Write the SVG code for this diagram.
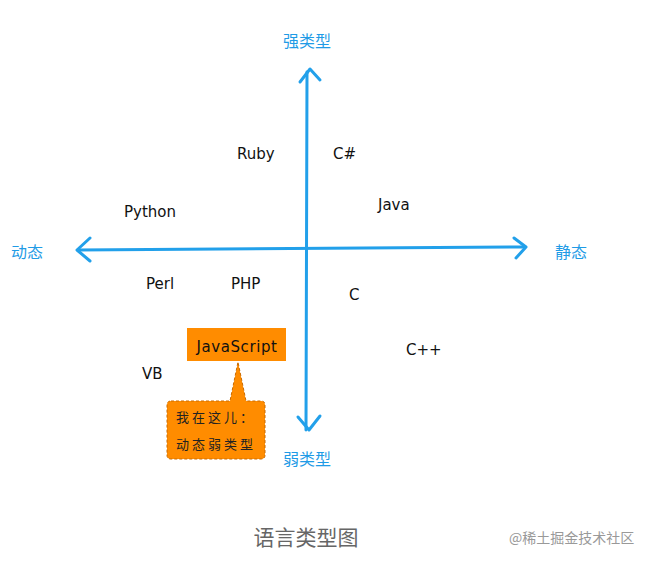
<svg xmlns="http://www.w3.org/2000/svg" width="647" height="562" viewBox="0 0 647 562">
<style>
.axis{stroke:#22a0ea;stroke-width:3;fill:none;stroke-linecap:round;stroke-linejoin:round}
.ax{font-family:"Noto Sans CJK SC",sans-serif;font-size:16px;fill:#1f9be6}
.lang{font-family:"DejaVu Sans",sans-serif;font-size:15px;fill:#111}
.note{font-family:"Noto Sans CJK SC",sans-serif;font-size:13px;fill:#222;letter-spacing:3px}
</style>
<rect width="647" height="562" fill="#fff"/>
<g id="connectors">
<path class="axis" d="M307 72 L306 430"/>
<path class="axis" d="M300 82 L310 69 L320 80"/>
<path class="axis" d="M298 417 L309 430 L320 416"/>
<path class="axis" d="M78 250 L524 247"/>
<path class="axis" d="M90 238 L77 250 L90 261"/>
<path class="axis" d="M514 238 L526 247 L516 258"/>
</g>
<g id="strong"><text class="ax" x="307" y="47" text-anchor="middle">强类型</text></g>
<g id="weak"><text class="ax" x="307" y="465" text-anchor="middle">弱类型</text></g>
<g id="dynamic"><text class="ax" x="11" y="258">动态</text></g>
<g id="static"><text class="ax" x="555" y="258">静态</text></g>
<g id="ruby"><text class="lang" x="237" y="159">Ruby</text></g>
<g id="csharp"><text class="lang" x="333" y="159">C#</text></g>
<g id="python"><text class="lang" x="124" y="217">Python</text></g>
<g id="java"><text class="lang" x="378" y="210">Java</text></g>
<g id="perl"><text class="lang" x="146" y="289">Perl</text></g>
<g id="php"><text class="lang" x="231" y="289">PHP</text></g>
<g id="c"><text class="lang" x="349" y="300">C</text></g>
<g id="cpp"><text class="lang" x="406" y="355">C++</text></g>
<g id="vb"><text class="lang" x="142" y="379">VB</text></g>
<g id="javascript">
<rect x="187" y="328" width="99" height="33" fill="#ff8c00"/>
<text class="lang" x="237" y="352" text-anchor="middle" font-size="16" letter-spacing="0.6">JavaScript</text>
</g>
<g id="callout">
<path d="M171 401 L230 401 L238 362 L246 401 L261 401 Q265 401 265 405 L265 455 Q265 459 261 459 L171 459 Q167 459 167 455 L167 405 Q167 401 171 401 Z" fill="#ff8c00" stroke="#c86a00" stroke-width="1" stroke-dasharray="3 2"/>
<text class="note" x="176" y="422">我在这儿：</text>
<text class="note" x="176" y="449">动态弱类型</text>
</g>
<g id="caption"><text x="306" y="545" text-anchor="middle" font-family="Noto Sans CJK SC,sans-serif" font-size="21" fill="#666">语言类型图</text></g>
<g id="watermark"><text x="509" y="543" font-family="Noto Sans CJK SC,sans-serif" font-size="14" fill="#999">@稀土掘金技术社区</text></g>
</svg>
